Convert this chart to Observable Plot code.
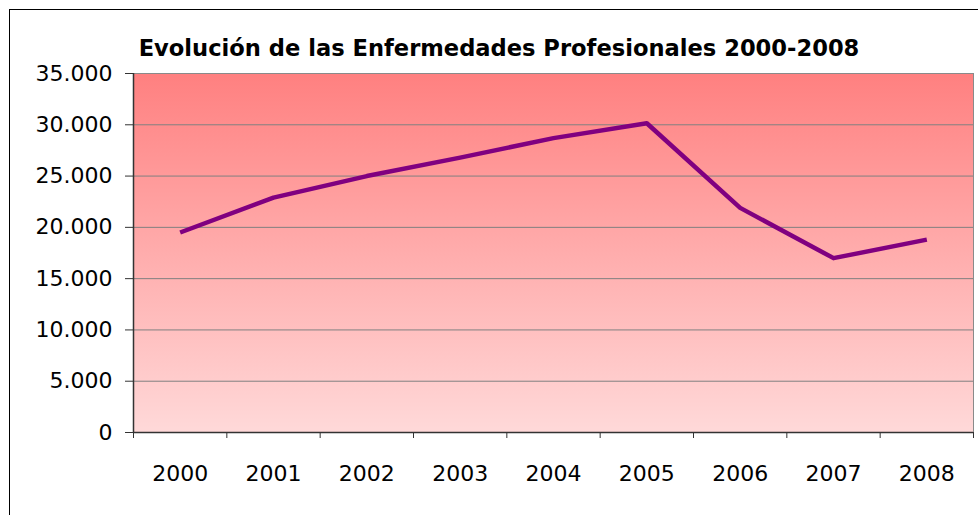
<!DOCTYPE html>
<html>
<head>
<meta charset="utf-8">
<script src="https://cdn.jsdelivr.net/npm/d3@7"></script>
<script src="https://cdn.jsdelivr.net/npm/@observablehq/plot@0.6"></script>
<style>
  html, body { margin: 0; padding: 0; background: #fff; }
  #wrap { position: relative; width: 978px; height: 515px; overflow: hidden; }
  #border { position: absolute; left: 9px; top: 9px; width: 990px; height: 530px; box-sizing: border-box; border: 1px solid #000; pointer-events: none; }
  #title { position: absolute; left: 20px; width: 958px; top: 36px; text-align: center; font-family: "DejaVu Sans", sans-serif; font-weight: bold; font-size: 22.6px; line-height: 24px; color: #000; }
  #chart { position: absolute; left: 0; top: 0; }
</style>
</head>
<body>
<div id="wrap">
  <div id="chart"></div>
  <div id="border"></div>
  <div id="title">Evolución de las Enfermedades Profesionales 2000-2008</div>
</div>
<script>
const years = [2000, 2001, 2002, 2003, 2004, 2005, 2006, 2007, 2008];
const values = [19500, 22900, 25000, 26800, 28700, 30150, 21900, 17000, 18800];
const yTicks = [0, 5000, 10000, 15000, 20000, 25000, 30000, 35000];
const xBoundaries = [1999.5, 2000.5, 2001.5, 2002.5, 2003.5, 2004.5, 2005.5, 2006.5, 2007.5, 2008.5];

const data = years.map((year, i) => ({year, value: values[i]}));
const es = d3.formatLocale({decimal: ",", thousands: ".", grouping: [3], currency: ["", "€"]});
const fmt = es.format(",");

const chart = Plot.plot({
  width: 978,
  height: 515,
  marginLeft: 133,
  marginTop: 73,
  marginRight: 5,
  marginBottom: 83,
  style: {fontFamily: "DejaVu Sans, sans-serif", fontSize: "22px", background: "transparent", color: "#000"},
  x: {domain: [1999.5, 2008.5]},
  y: {domain: [0, 35000]},
  marks: [
    Plot.frame({fill: "url(#bgGrad)", stroke: "none"}),
    Plot.gridY(yTicks, {stroke: "#808080", strokeOpacity: 1, strokeWidth: 1}),
    Plot.frame({stroke: "#8a8a8a", strokeWidth: 1}),
    Plot.axisY(yTicks, {tickSize: 8, tickPadding: 13, tickFormat: d => d === 0 ? "0" : fmt(d), stroke: "#333", fill: "#000", label: null}),
    Plot.axisX(xBoundaries, {tickSize: 6, tickFormat: () => "", stroke: "#333", label: null}),
    Plot.axisX(years, {tickSize: 0, tickPadding: 33, tickFormat: d => String(d), fill: "#000", label: null}),
    Plot.ruleX([1999.5], {stroke: "#333", strokeWidth: 1.5}),
    Plot.ruleY([0], {stroke: "#333", strokeWidth: 1.5}),
    Plot.line(data, {x: "year", y: "value", stroke: "#800080", strokeWidth: 4.5, strokeLinejoin: "round", strokeLinecap: "butt"})
  ]
});

const defs = d3.select(chart).insert("defs", ":first-child");
const grad = defs.append("linearGradient").attr("id", "bgGrad").attr("x1", 0).attr("y1", 0).attr("x2", 0).attr("y2", 1);
grad.append("stop").attr("offset", "0%").attr("stop-color", "#ff8080");
grad.append("stop").attr("offset", "100%").attr("stop-color", "#ffd9d9");

document.getElementById("chart").appendChild(chart);
</script>
</body>
</html>
